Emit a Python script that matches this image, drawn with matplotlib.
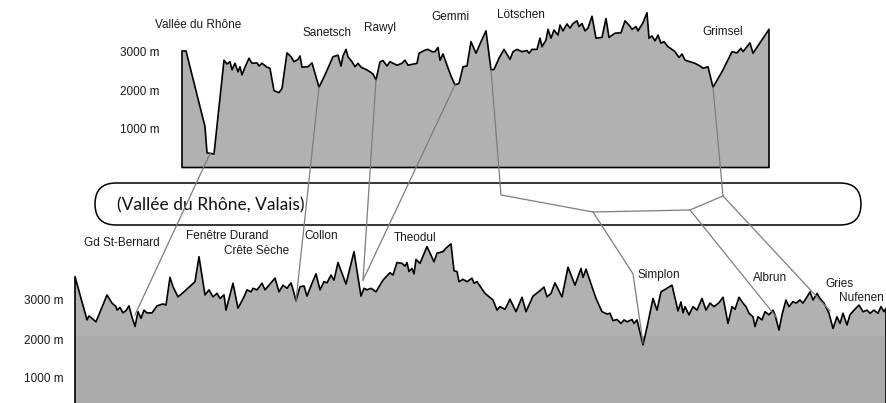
import matplotlib
matplotlib.use('Agg')
from matplotlib import pyplot as plt
from matplotlib.lines import Line2D
from matplotlib.patches import FancyBboxPatch

plt.rcParams['font.family'] = ['Liberation Sans', 'DejaVu Sans']

# --- upper profile: Valais side (distance, elevation in m) ---
top_km = [0, 4, 23, 25, 32, 42, 45, 48, 50, 53, 56, 58, 60, 63, 67, 70, 75, 77, 80, 85,
          88, 92, 97, 100, 105, 109, 112, 116, 118, 120, 126, 130, 132, 137, 143, 151, 156, 159, 161, 164,
          166, 170, 173, 176, 179, 184, 188, 191, 194, 198, 201, 205, 208, 211, 215, 220, 223, 226, 235, 237,
          243, 246, 250, 253, 256, 258, 261, 265, 269, 273, 277, 281, 285, 289, 294, 299, 304, 309, 312, 317,
          322, 326, 328, 331, 335, 340, 345, 347, 350, 355, 358, 360, 364, 366, 369, 372, 376, 378, 381, 385,
          388, 391, 395, 397, 400, 403, 406, 410, 414, 420, 424, 427, 433, 439, 443, 447, 450, 454, 456, 461,
          465, 467, 470, 473, 476, 479, 482, 486, 490, 493, 497, 500, 503, 508, 513, 518, 521, 526, 531, 540,
          550, 555, 559, 561, 568, 571, 587]
top_elev = [3020, 3020, 1060, 380, 350, 2780, 2680, 2740, 2530, 2700, 2480, 2610, 2400, 2600, 2830, 2700, 2710, 2630, 2700, 2600,
            2570, 1990, 1940, 2050, 2970, 2870, 2740, 2800, 2890, 2600, 2610, 2710, 2530, 2080, 2400, 2870, 2910, 2630, 2890, 3060,
            2870, 2740, 2610, 2700, 2600, 2540, 2480, 2420, 2270, 2740, 2770, 2630, 2740, 2700, 2650, 2700, 2780, 2650, 2700, 2960,
            3040, 3060, 3000, 3000, 3110, 2780, 2940, 2650, 2370, 2140, 2180, 2610, 2630, 3260, 2960, 3260, 3540, 2530, 2540, 2830,
            3060, 2890, 2800, 3000, 3060, 3000, 3030, 2960, 3060, 3060, 3350, 3130, 3300, 3580, 3350, 3560, 3430, 3690, 3540, 3720,
            3610, 3730, 3800, 3650, 3730, 3540, 3610, 3920, 3350, 3370, 3860, 3370, 3480, 3490, 3800, 3690, 3580, 3650, 3540, 3750,
            4010, 3350, 3410, 3280, 3430, 3220, 3260, 3130, 3060, 3000, 2850, 2940, 2780, 2740, 2700, 2630, 2570, 2610, 2080, 2480,
            3000, 2970, 3090, 3000, 3230, 2960, 3580]

# --- lower profile: Italian side ---
bottom_km = [0, 12, 14, 17, 21, 32, 37, 41, 42, 45, 48, 51, 54, 57, 60, 63, 66, 69, 72, 77,
             82, 88, 91, 95, 98, 103, 109, 120, 124, 130, 134, 138, 142, 145, 149, 151, 158, 163, 169, 172,
             176, 178, 182, 187, 190, 195, 200, 204, 208, 212, 216, 218, 221, 225, 229, 232, 237, 241, 245, 249,
             252, 256, 259, 263, 271, 279, 286, 289, 292, 296, 301, 308, 315, 318, 322, 327, 330, 332, 334, 337,
             339, 341, 345, 352, 359, 362, 368, 371, 376, 379, 382, 384, 388, 392, 397, 399, 402, 410, 418, 422,
             425, 430, 435, 441, 447, 451, 458, 465, 469, 472, 476, 480, 487, 493, 500, 506, 508, 511, 515, 521,
             527, 532, 535, 538, 542, 546, 549, 552, 557, 559, 562, 568, 572, 578, 582, 586, 590, 597, 603, 606,
             608, 610, 614, 618, 622, 627, 631, 635, 639, 644, 648, 653, 657, 660, 664, 668, 671, 674, 678, 680,
             683, 687, 690, 694, 698, 700, 704, 707, 711, 714, 718, 721, 725, 728, 732, 735, 738, 742, 745, 749,
             754, 758, 762, 765, 768, 772, 775, 779, 784, 788, 792, 795, 799, 803, 806, 809, 811]
bottom_elev = [3600, 2490, 2590, 2530, 2440, 3130, 2920, 2830, 2740, 2810, 2670, 2730, 2850, 2560, 2320, 2700, 2530, 2740, 2670, 2670,
               2850, 2900, 2870, 3580, 3340, 3080, 3210, 3470, 4110, 3130, 3260, 3080, 3170, 3040, 3130, 2740, 3430, 2790, 3080, 3260,
               3210, 3300, 3260, 3430, 3260, 3410, 3560, 3210, 3380, 3300, 3440, 3270, 2980, 3340, 3360, 3100, 3430, 3670, 3260, 3470,
               3440, 3640, 3510, 3960, 3410, 4240, 3100, 3300, 3260, 3300, 3210, 3510, 3700, 3640, 3960, 3940, 3870, 3960, 3730, 3810,
               3670, 4040, 3940, 4370, 3980, 4200, 4240, 4330, 4440, 3750, 3730, 3470, 3530, 3470, 3560, 3430, 3470, 3170, 3000, 2740,
               2830, 2760, 3020, 2700, 3070, 2700, 3100, 3240, 3330, 3080, 3170, 3440, 3080, 3840, 3380, 3810, 3580, 3790, 3490, 3040,
               2700, 2640, 2660, 2470, 2500, 2400, 2490, 2440, 2500, 2400, 2490, 1850, 2300, 3040, 2740, 3210, 3270, 3380, 2720, 2950,
               2670, 2830, 2620, 2830, 2740, 3040, 2740, 2920, 2830, 2930, 3070, 2400, 2830, 2760, 3070, 2920, 2830, 2660, 2570, 2320,
               2570, 2490, 2700, 2620, 2740, 2620, 2230, 2620, 3000, 2830, 2960, 2920, 3000, 2920, 3080, 3210, 3000, 3170, 3040, 2920,
               2660, 2270, 2570, 2400, 2660, 2360, 2620, 2740, 2870, 2700, 2740, 2660, 2740, 2660, 2830, 2700, 2790]

elev_ticks = [1000, 2000, 3000]
elev_tick_labels = ['1000 m', '2000 m', '3000 m']

# pass names and label anchors (distance, elevation) on each profile
top_pass_names = ['Vallée du Rhône', 'Sanetsch', 'Rawyl', 'Gemmi', 'Lötschen', 'Grimsel']
top_pass_km = [16, 145, 198, 268, 339, 541]
top_pass_elev = [3690, 3480, 3610, 3900, 3950, 3510]

bottom_pass_names = ['Gd St-Bernard', 'Fenêtre Durand', 'Crête Sèche', 'Collon', 'Theodul',
                     'Simplon', 'Albrun', 'Gries']
bottom_pass_km = [47, 152, 182, 246, 340, 584, 695, 764]
bottom_pass_elev = [4460, 4640, 4260, 4640, 4590, 3640, 3560, 3410]

# connector routes: (profile, distance, elevation)
rhone_route = [('top', 28, 360), ('bottom', 60, 2620)]
sanetsch_route = [('top', 137, 2080), ('bottom', 221, 2980)]
rawyl_route = [('top', 194, 2270), ('bottom', 288, 3510)]
gemmi_route = [('top', 273, 2140), ('bottom', 288, 3510)]
lotschen_route = [('top', 309, 2530), ('top', 319, -712), ('top', 411, -1153),
                  ('bottom', 558, 3670), ('bottom', 568, 1900)]
grimsel_route = [('top', 531, 2080), ('top', 541, -738), ('top', 508, -1101), ('top', 411, -1153)]
albrun_route = [('top', 508, -1101), ('bottom', 702, 2540)]
gries_route = [('top', 541, -738), ('bottom', 755, 2720)]

W, H = 886, 403
fig = plt.figure(figsize=(W / 100, H / 100), dpi=100)

label_font = {'fontsize': 8.5, 'color': '#1a1a1a'}


def setup_profile(ax, km, elev, color, pad):
    xs = [km[0]] + km + [km[-1]]
    ys = [0] + elev + [0]
    ax.fill(xs, ys, facecolor=color, edgecolor='none', clip_on=False, zorder=1)
    ax.fill(xs, ys, facecolor='none', edgecolor='black', linewidth=1.2,
            joinstyle='round', clip_on=False, zorder=3)
    for side in ax.spines.values():
        side.set_visible(False)
    ax.set_xticks([])
    ax.set_yticks(elev_ticks)
    ax.set_yticklabels(elev_tick_labels, fontsize=8.5, color='#1a1a1a')
    ax.tick_params(axis='y', length=0, pad=pad)
    ax.patch.set_alpha(0)


# upper profile: baseline at 167.5 px, 38.6 px per 1000 m
ax_top = fig.add_axes([182 / W, (H - 167.5) / H, 587 / W, 167.5 / H])
ax_top.set_xlim(0, 587)
ax_top.set_ylim(0, 167.5 / 38.6 * 1000)
setup_profile(ax_top, top_km, top_elev, '#b1b1b1', 16)

# lower profile: baseline at 417 px (below the frame), 39 px per 1000 m
ax_bot = fig.add_axes([75 / W, 0, 811 / W, (H - 228) / H])
ax_bot.set_xlim(0, 811)
ax_bot.set_ylim((417 - 403) / 39 * 1000, (417 - 228) / 39 * 1000)
setup_profile(ax_bot, bottom_km, bottom_elev, '#b1b1b1', 8)
# slightly darker lower band of the scanned profile
ax_bot.axhspan(0, 2077, facecolor='#ababab', edgecolor='none', zorder=2)

for name, x, y in zip(top_pass_names, top_pass_km, top_pass_elev):
    ax_top.text(x, y, name, ha='center', va='center', clip_on=False, **label_font)
for name, x, y in zip(bottom_pass_names, bottom_pass_km, bottom_pass_elev):
    ax_bot.text(x, y, name, ha='center', va='center', clip_on=False, **label_font)
ax_bot.text(764, 3050, 'Nufenen', ha='left', va='center', clip_on=False, **label_font)

# rounded band in the middle
band = FancyBboxPatch((0.95, (H - 225) / 100), 7.66, 0.42,
                      boxstyle='round,pad=0,rounding_size=0.21',
                      transform=fig.dpi_scale_trans, facecolor='none',
                      edgecolor='black', linewidth=1.1, zorder=2)
fig.add_artist(band)
fig.text(117 / W, (H - 205) / H, '(Vallée du Rhône, Valais)', ha='left', va='center',
         fontsize=12.5, family=['Lato', 'DejaVu Sans'], color='#111111', zorder=3)

# connector lines between the two profiles
axes_by_name = {'top': ax_top, 'bottom': ax_bot}
to_fig = fig.transFigure.inverted()
for route in [rhone_route, sanetsch_route, rawyl_route, gemmi_route,
              lotschen_route, grimsel_route, albrun_route, gries_route]:
    pts = [to_fig.transform(axes_by_name[a].transData.transform((x, y))) for a, x, y in route]
    fig.add_artist(Line2D([p[0] for p in pts], [p[1] for p in pts], transform=fig.transFigure,
                          color='#7d7d7d', linewidth=0.9, zorder=4))

fig.savefig('out.png', dpi=100, facecolor='white')
